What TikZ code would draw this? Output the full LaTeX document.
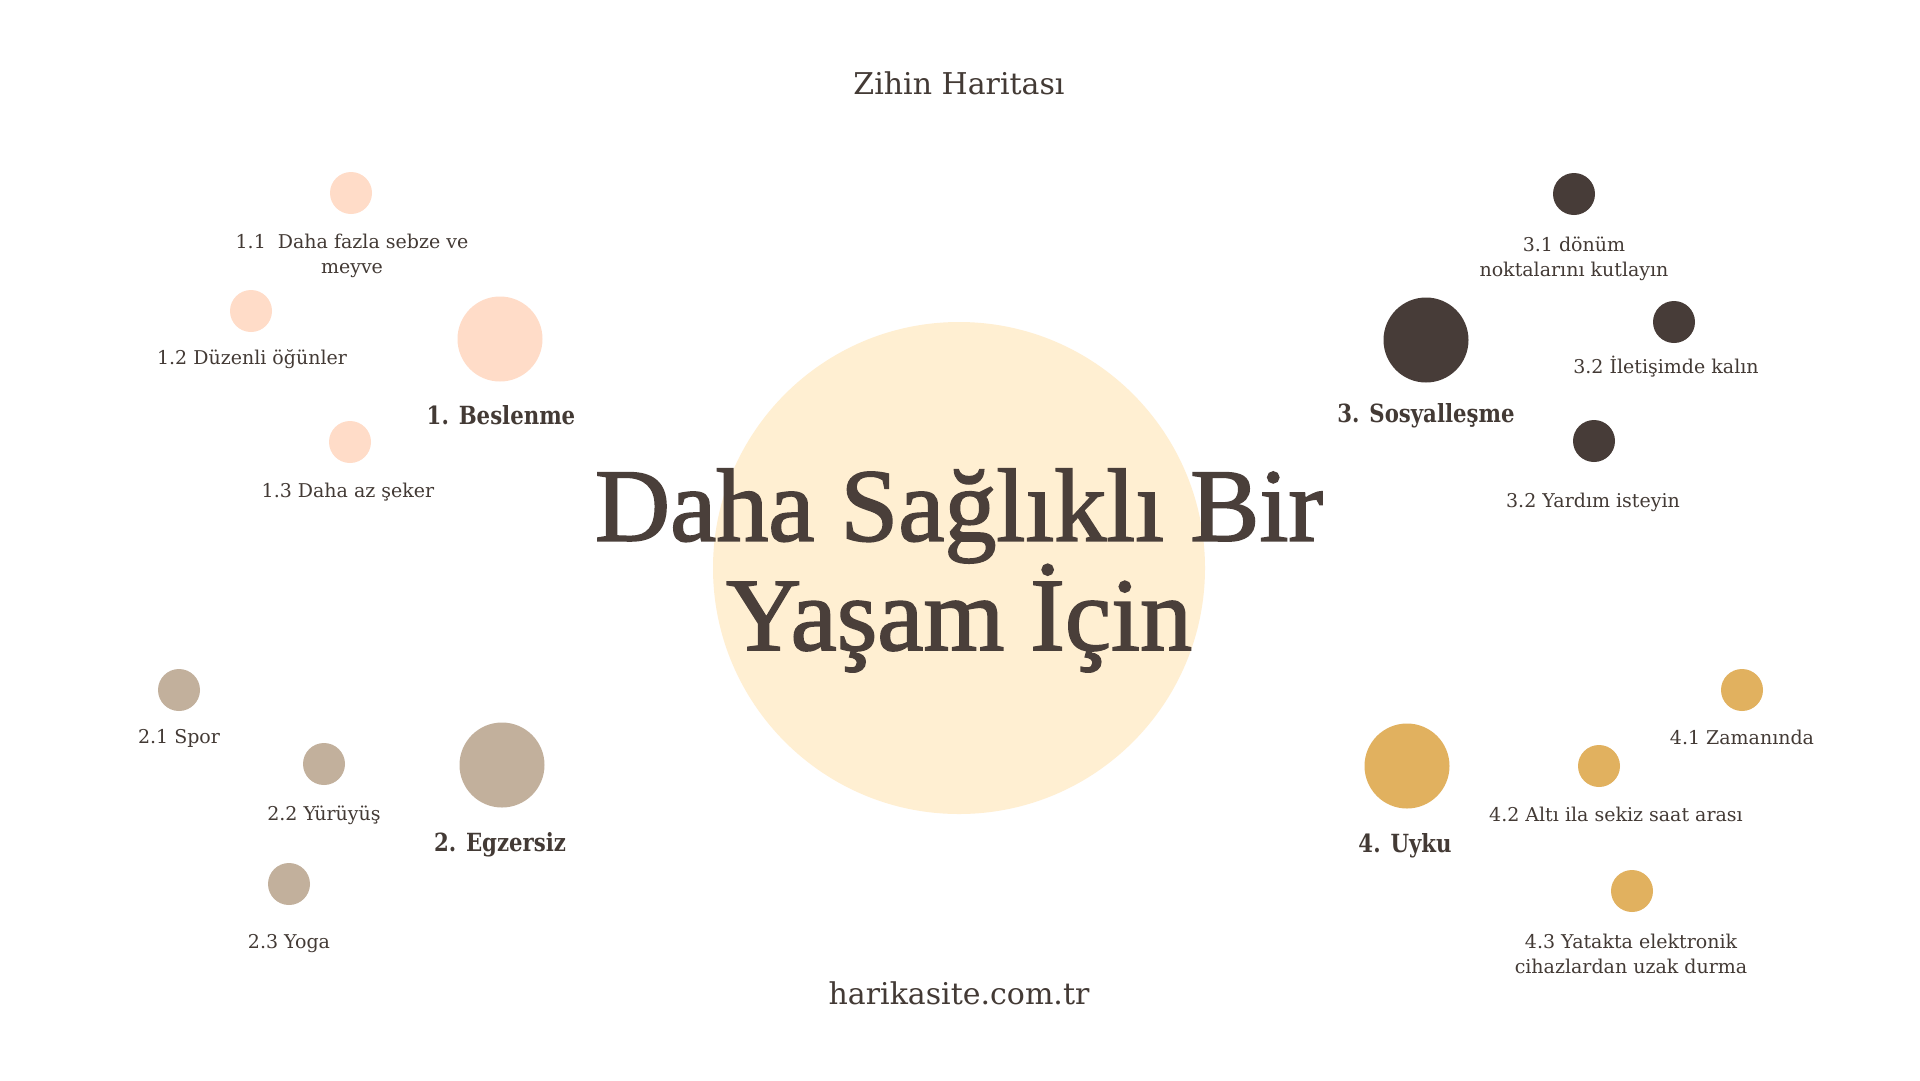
\documentclass[tikz,border=0pt]{standalone}
\usepackage{fontspec}
\setmainfont{DejaVu Serif}
\newfontfamily\titlefont[FakeBold=1.6]{Liberation Serif}
\newfontfamily\labelfont[FakeStretch=0.85]{DejaVu Serif Bold}
\definecolor{peach}{HTML}{FFDCC8}
\definecolor{taupe}{HTML}{C2B09C}
\definecolor{darkc}{HTML}{473C38}
\definecolor{gold}{HTML}{E1B15F}
\definecolor{cream}{HTML}{FFEFD2}
\definecolor{textc}{HTML}{433A35}
\definecolor{titlec}{HTML}{4A3F3A}
\tikzset{
  dot/.style={circle, inner sep=0pt, minimum size=42pt, fill=#1},
  bigdot/.style={circle, inner sep=0pt, minimum size=85pt, fill=#1},
  sub/.style={font=\fontsize{19}{25}\selectfont, text=textc, align=center, anchor=base, inner sep=0pt},
  head/.style={font=\labelfont\fontsize{25}{30}\selectfont, text=textc, anchor=base, inner sep=0pt},
}
\begin{document}
\begin{tikzpicture}[x=1pt,y=-1pt]
\useasboundingbox[fill=white] (0,0) rectangle (1920,1080);
% centre
\node[circle, inner sep=0pt, minimum size=492pt, fill=cream] (center) at (959,568) {};
\node[font=\titlefont\fontsize{104}{99}\selectfont, text=titlec, align=center, anchor=base, inner sep=0pt] (title) at (959,650) {Daha Sağlıklı Bir\\Yaşam İçin};
\node[font=\fontsize{30}{36}\selectfont, text=textc, anchor=base, inner sep=0pt] (top) at (959,94) {Zihin Haritası};
\node[font=\fontsize{30}{36}\selectfont, text=textc, anchor=base, inner sep=0pt] (site) at (959,1004) {harikasite.com.tr};
% 1
\node[bigdot=peach] (b1) at (500,339) {};
\node[head] (h1) at (501,424) {1. Beslenme};
\node[dot=peach] (d11) at (351,193) {};
\node[sub] (t11) at (352,273) {1.1\ \ Daha fazla sebze ve\\meyve};
\node[dot=peach] (d12) at (251,311) {};
\node[sub] (t12) at (252,364) {1.2 Düzenli öğünler};
\node[dot=peach] (d13) at (350,442) {};
\node[sub] (t13) at (348,497) {1.3 Daha az şeker};
% 2
\node[bigdot=taupe] (b2) at (502,765) {};
\node[head] (h2) at (500,851) {2. Egzersiz};
\node[dot=taupe] (d21) at (179,690) {};
\node[sub] (t21) at (179,743) {2.1 Spor};
\node[dot=taupe] (d22) at (324,764) {};
\node[sub] (t22) at (324,820) {2.2 Yürüyüş};
\node[dot=taupe] (d23) at (289,884) {};
\node[sub] (t23) at (289,948) {2.3 Yoga};
% 3
\node[bigdot=darkc] (b3) at (1426,340) {};
\node[head] (h3) at (1426,422) {3. Sosyalleşme};
\node[dot=darkc] (d31) at (1574,194) {};
\node[sub] (t31) at (1574,276) {3.1 dönüm\\noktalarını kutlayın};
\node[dot=darkc] (d32) at (1674,322) {};
\node[sub] (t32) at (1666,373) {3.2 İletişimde kalın};
\node[dot=darkc] (d33) at (1594,441) {};
\node[sub] (t33) at (1593,507) {3.2 Yardım isteyin};
% 4
\node[bigdot=gold] (b4) at (1407,766) {};
\node[head] (h4) at (1405,852) {4. Uyku};
\node[dot=gold] (d41) at (1742,690) {};
\node[sub] (t41) at (1742,744) {4.1 Zamanında};
\node[dot=gold] (d42) at (1599,766) {};
\node[sub] (t42) at (1616,821) {4.2 Altı ila sekiz saat arası};
\node[dot=gold] (d43) at (1632,891) {};
\node[sub] (t43) at (1631,973) {4.3 Yatakta elektronik\\cihazlardan uzak durma};
\end{tikzpicture}
\end{document}
